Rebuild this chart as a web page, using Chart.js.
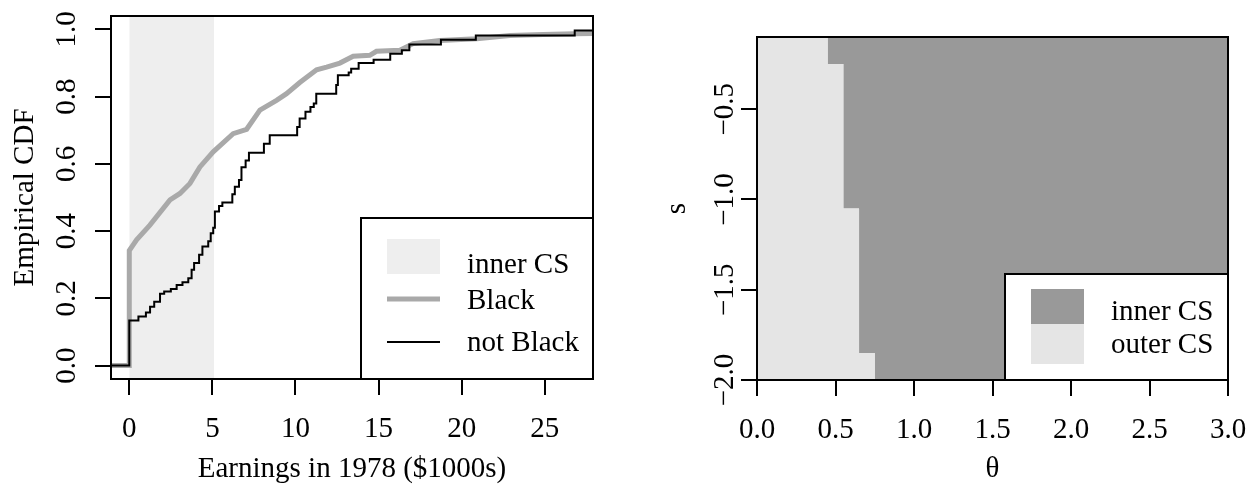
<!DOCTYPE html>
<html>
<head>
<meta charset="utf-8">
<script src="https://cdn.jsdelivr.net/npm/chart.js@4.4.1/dist/chart.umd.min.js"></script>
<style>
  html, body { margin: 0; padding: 0; background: #fff; }
  #wrap { position: relative; width: 1251px; height: 487px; }
  canvas { position: absolute; top: 0; }
  #cdf { left: 0; }
  #cs { left: 625px; }
</style>
</head>
<body>
<div id="wrap">
  <canvas id="cdf" width="625" height="487"></canvas>
  <canvas id="cs" width="626" height="487"></canvas>
</div>
<script>
// left panel: empirical CDF of 1978 earnings
const blackX = [-1.5, 0, 0, 0.44, 1.24, 2.45, 3.05, 3.65, 4.25, 5.05, 6.25, 7.06, 7.86, 8.86, 9.46, 10.26, 11.27, 11.87, 12.67, 13.47, 14.47, 14.87, 16.28, 17.08, 18.68, 20.9, 22.9, 24.9, 26.8, 28.5];
const blackY = [0, 0, 0.342, 0.374, 0.418, 0.493, 0.512, 0.542, 0.591, 0.636, 0.69, 0.703, 0.76, 0.789, 0.809, 0.842, 0.88, 0.888, 0.9, 0.92, 0.923, 0.935, 0.938, 0.958, 0.967, 0.972, 0.982, 0.985, 0.987, 0.988];

// not Black: jump locations and the CDF value after each jump
const notBlackX = [-1.5, 0, 0.55, 1.0, 1.25, 1.5, 1.85, 2.1, 2.5, 2.85, 3.2, 3.55, 3.75, 3.9, 4.2, 4.4, 4.75, 4.9, 5.05, 5.15, 5.4, 5.6, 6.2, 6.35, 6.6, 6.75, 7.0, 7.2, 8.1, 8.45, 10.1, 10.25, 10.6, 10.9, 11.1, 11.25, 12.45, 12.55, 13.2, 13.35, 13.8, 14.7, 15.7, 16.4, 16.85, 18.75, 20.85, 26.8, 28.5];
const notBlackY = [0, 0.134, 0.146, 0.158, 0.175, 0.19, 0.214, 0.22, 0.228, 0.24, 0.248, 0.26, 0.285, 0.305, 0.33, 0.354, 0.37, 0.394, 0.41, 0.458, 0.475, 0.485, 0.51, 0.532, 0.552, 0.59, 0.61, 0.633, 0.66, 0.685, 0.71, 0.735, 0.755, 0.769, 0.78, 0.809, 0.835, 0.864, 0.872, 0.883, 0.9, 0.91, 0.928, 0.938, 0.955, 0.969, 0.982, 0.997, 0.997];

const innerCSEarn = [0, 5.1];
const earnTicks = [0, 5, 10, 15, 20, 25];
const cdfTicks = [0, 0.2, 0.4, 0.6, 0.8, 1.0];

// right panel: confidence set over (theta, s)
const sBandTop = [-0.1, -0.25, -1.05, -1.85];
const sBottom = -2.0;
const thetaEdge = [0.45, 0.55, 0.65, 0.75];
const thetaMax = 3;
const thetaTicks = [0, 0.5, 1, 1.5, 2, 2.5, 3];
const sTicks = [-2, -1.5, -1, -0.5];

const FONT = "'Liberation Serif', 'Times New Roman', serif";
const FS = 29;
Chart.defaults.font.family = FONT;
Chart.defaults.font.size = FS;
Chart.defaults.color = '#000';

const pts = (xs, ys) => xs.map((x, i) => ({ x: x, y: ys[i] }));

const framePlugin = {
  id: 'frame',
  afterDatasetsDraw(chart) {
    const { ctx, chartArea: a } = chart;
    ctx.save();
    ctx.strokeStyle = '#000';
    ctx.lineWidth = 2;
    ctx.strokeRect(a.left, a.top, a.right - a.left, a.bottom - a.top);
    ctx.restore();
  }
};

// legend box pinned to the bottom-right corner of the plot area
function boxLegend(w, h, rows) {
  return {
    id: 'boxLegend',
    afterDraw(chart) {
      const { ctx, chartArea: a } = chart;
      const left = a.right - w, top = a.bottom - h;
      ctx.save();
      ctx.fillStyle = '#fff';
      ctx.fillRect(left, top, w, h);
      rows.forEach(r => {
        if (r.rect) {
          ctx.fillStyle = r.color;
          ctx.fillRect(left + 26, top + r.rect[0], 53, r.rect[1]);
        } else {
          ctx.strokeStyle = r.color;
          ctx.lineWidth = r.width;
          ctx.beginPath();
          ctx.moveTo(left + 26, top + r.y);
          ctx.lineTo(left + 79, top + r.y);
          ctx.stroke();
        }
        ctx.fillStyle = '#000';
        ctx.font = FS + 'px ' + FONT;
        ctx.textBaseline = 'alphabetic';
        ctx.textAlign = 'left';
        ctx.fillText(r.text, left + 106, top + r.base);
      });
      ctx.strokeStyle = '#000';
      ctx.lineWidth = 2;
      ctx.strokeRect(left, top, w, h);
      ctx.restore();
    }
  };
}

function axis(min, max, ticks, fmt, fit, extra) {
  return Object.assign({
    type: 'linear',
    min: min,
    max: max,
    afterBuildTicks: s => { s.ticks = ticks.map(v => ({ value: v })); },
    afterFit: s => {
      fit(s);
      s.paddingLeft = s.paddingRight = s.paddingTop = s.paddingBottom = 0;
    },
    grid: { drawOnChartArea: false, drawTicks: true, tickLength: 16, color: '#000', lineWidth: 2 },
    border: { display: false }
  }, extra, {
    ticks: Object.assign({ autoSkip: false, callback: v => fmt(v) }, extra.ticks)
  });
}

const common = {
  responsive: false,
  animation: false,
  events: [],
  plugins: { legend: { display: false }, tooltip: { enabled: false } }
};

new Chart(document.getElementById('cdf'), {
  type: 'scatter',
  data: {
    datasets: [
      { label: 'not Black', data: pts(notBlackX, notBlackY), showLine: true, stepped: true,
        borderColor: '#000', borderWidth: 2, pointRadius: 0, order: 1 },
      { label: 'Black', data: pts(blackX, blackY), showLine: true,
        borderColor: '#a9a9a9', borderWidth: 5, pointRadius: 0, order: 2 },
      { label: 'inner CS', data: pts(innerCSEarn, [1.5, 1.5]), showLine: true, fill: 'start',
        backgroundColor: '#eeeeee', borderColor: 'transparent', borderWidth: 0, pointRadius: 0, order: 3 }
    ]
  },
  options: Object.assign({}, common, {
    layout: { padding: { left: 0, top: 16, right: 32, bottom: 0 } },
    scales: {
      x: axis(-1.1, 27.9, earnTicks, v => String(v), s => { s.height = 108; }, {
        ticks: { padding: 17, maxRotation: 0 },
        title: { display: true, text: 'Earnings in 1978 ($1000s)', padding: { top: 0, bottom: 0 } }
      }),
      y: axis(-0.04, 1.04, cdfTicks, v => v.toFixed(1), s => { s.width = 111; }, {
        ticks: { padding: 9, minRotation: 90, maxRotation: 90, crossAlign: 'center' },
        title: { display: true, text: 'Empirical CDF', padding: { top: 8, bottom: 0 } }
      })
    }
  }),
  plugins: [framePlugin, boxLegend(232, 161, [
    { rect: [21, 35], color: '#eeeeee', text: 'inner CS', base: 55 },
    { y: 81, width: 5, color: '#a9a9a9', text: 'Black', base: 91 },
    { y: 124, width: 2, color: '#000', text: 'not Black', base: 133 }
  ])]
});

// boundary between outer and inner CS, as the top of the outer region over theta
const edgeX = [0].concat(thetaEdge, [thetaMax]);
const edgeY = sBandTop.concat([sBottom, sBottom]);

new Chart(document.getElementById('cs'), {
  type: 'scatter',
  data: {
    datasets: [
      { label: 'outer CS', data: pts(edgeX, edgeY), showLine: true, stepped: true, fill: 'start',
        backgroundColor: '#e5e5e5', borderColor: 'transparent', borderWidth: 0, pointRadius: 0, order: 1 },
      { label: 'inner CS', data: pts(edgeX, edgeY), showLine: true, stepped: true, fill: 'end',
        backgroundColor: '#999999', borderColor: 'transparent', borderWidth: 0, pointRadius: 0, order: 2 }
    ]
  },
  options: Object.assign({}, common, {
    layout: { padding: { left: 0, top: 37, right: 23, bottom: 0 } },
    scales: {
      x: axis(0, thetaMax, thetaTicks, v => v.toFixed(1), s => { s.height = 107; }, {
        ticks: { padding: 17, maxRotation: 0 },
        title: { display: true, text: 'θ', padding: { top: 0, bottom: 0 } }
      }),
      y: axis(sBottom, sBandTop[0], sTicks, v => '\u2212' + Math.abs(v).toFixed(1), s => { s.width = 132; }, {
        ticks: { padding: -11, minRotation: 90, maxRotation: 90, crossAlign: 'center' },
        title: { display: true, text: 's', padding: { top: 35, bottom: 0 } }
      })
    }
  }),
  plugins: [framePlugin, boxLegend(223, 106, [
    { rect: [15, 35], color: '#999999', text: 'inner CS', base: 46 },
    { rect: [50, 40], color: '#e5e5e5', text: 'outer CS', base: 79 }
  ])]
});
</script>
</body>
</html>
